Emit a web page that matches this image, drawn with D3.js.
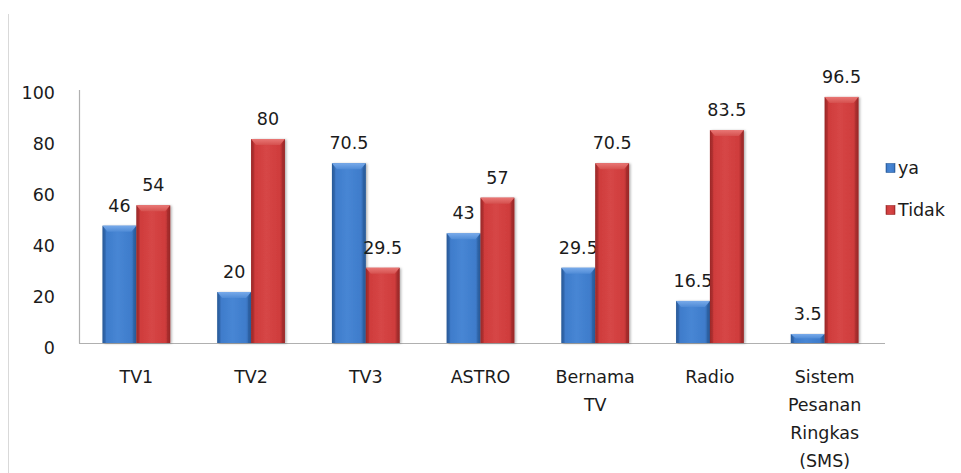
<!DOCTYPE html>
<html><head><meta charset="utf-8">
<script src="https://cdn.jsdelivr.net/npm/d3@7"></script>
<style>html,body{margin:0;padding:0;background:#fff;}svg{display:block;}</style>
</head><body>
<svg id="chart" width="961" height="473"></svg>
<script>
const categories = ["TV1", "TV2", "TV3", "ASTRO", "Bernama\nTV", "Radio", "Sistem\nPesanan\nRingkas\n(SMS)"];
const seriesNames = ["ya", "Tidak"];
const yaValues = [46, 20, 70.5, 43, 29.5, 16.5, 3.5];
const tidakValues = [54, 80, 29.5, 57, 70.5, 83.5, 96.5];
const yTicks = [0, 20, 40, 60, 80, 100];

const svg = d3.select("#chart");
const FONT = "DejaVu Sans, Verdana, sans-serif";
const textColor = "#1b1b1b";

// frame line at left
svg.append("line").attr("x1", 8.5).attr("x2", 8.5).attr("y1", 14).attr("y2", 473)
  .attr("stroke", "#d9d9d9").attr("stroke-width", 1);

const x0 = d3.scaleBand().domain(categories).range([79, 882]).paddingInner(0.41).paddingOuter(0.205);
const x1 = d3.scaleBand().domain(seriesNames).range([0, x0.bandwidth()]);
const y = d3.scaleLinear().domain([0, 100]).range([343, 88]);

const defs = svg.append("defs");
const palettes = {
  ya: {edge: "#285a98", mid: "#3f7ccb", light: "#4786d4", top: "#78aaea", topEdge: "#4f8bd6"},
  Tidak: {edge: "#9a2828", mid: "#cf3c3c", light: "#d64646", top: "#e97775", topEdge: "#d5504e"}
};
seriesNames.forEach((s, i) => {
  const p = palettes[s];
  const g = defs.append("linearGradient").attr("id", "g" + i).attr("x1", 0).attr("x2", 1).attr("y1", 0).attr("y2", 0);
  g.append("stop").attr("offset", "0%").attr("stop-color", p.edge);
  g.append("stop").attr("offset", "12%").attr("stop-color", p.mid);
  g.append("stop").attr("offset", "45%").attr("stop-color", p.light);
  g.append("stop").attr("offset", "85%").attr("stop-color", p.mid);
  g.append("stop").attr("offset", "100%").attr("stop-color", p.edge);
  const t = defs.append("linearGradient").attr("id", "t" + i).attr("x1", 0).attr("x2", 0).attr("y1", 0).attr("y2", 1);
  t.append("stop").attr("offset", "0%").attr("stop-color", p.top);
  t.append("stop").attr("offset", "100%").attr("stop-color", p.topEdge);
});
const shadow = defs.append("filter").attr("id", "sh").attr("x", "-20%").attr("y", "-5%").attr("width", "150%").attr("height", "115%");
shadow.append("feDropShadow").attr("dx", 1.5).attr("dy", 0.5).attr("stdDeviation", 1.2).attr("flood-color", "#000").attr("flood-opacity", 0.3);

// axes
const yAxis = svg.append("g").attr("transform", "translate(79,0)")
  .call(d3.axisLeft(y).tickValues(yTicks).tickSize(0).tickPadding(24));
yAxis.select(".domain").attr("stroke", "#b0b0b0").attr("stroke-width", 1.2).attr("d", "M0.5,90V343.5");
yAxis.selectAll("text").attr("font-family", FONT).attr("font-size", "17.5px").attr("fill", textColor).attr("dy", "0.62em");

svg.append("line").attr("x1", 79).attr("x2", 885).attr("y1", 343.5).attr("y2", 343.5)
  .attr("stroke", "#b0b0b0").attr("stroke-width", 1.2);

const data = categories.map((c, i) => ({cat: c, vals: [yaValues[i], tidakValues[i]]}));

const groups = svg.append("g").selectAll("g").data(data).join("g")
  .attr("transform", d => `translate(${x0(d.cat)},0)`);

const bars = groups.selectAll("g.bar").data(d => d.vals.map((v, i) => ({s: seriesNames[i], i, v})))
  .join("g").attr("class", "bar");

bars.each(function(d) {
  const g = d3.select(this);
  const bx = x1(d.s), bw = x1.bandwidth(), by = y(d.v), bh = y(0) - y(d.v);
  g.append("rect").attr("x", bx).attr("y", by).attr("width", bw).attr("height", bh)
    .attr("fill", `url(#g${d.i})`).attr("filter", "url(#sh)");
  const bev = Math.min(6, bh / 2);
  g.append("path")
    .attr("d", `M${bx},${by}H${bx + bw}L${bx + bw - 5},${by + bev}H${bx + 5}Z`)
    .attr("fill", `url(#t${d.i})`);
  g.append("path")
    .attr("d", `M${bx},${by}L${bx + 3},${by + bev}V${by + bh}H${bx}Z`)
    .attr("fill", palettes[d.s].edge).attr("opacity", 0.35);
  g.append("path")
    .attr("d", `M${bx + bw},${by}L${bx + bw - 3},${by + bev}V${by + bh}H${bx + bw}Z`)
    .attr("fill", palettes[d.s].edge).attr("opacity", 0.5);
});

bars.append("text")
  .attr("x", d => x1(d.s) + x1.bandwidth() / 2)
  .attr("y", d => y(d.v) - 14)
  .attr("text-anchor", "middle")
  .attr("font-family", FONT).attr("font-size", "17.5px").attr("fill", textColor)
  .text(d => d.v);

// category labels
const catG = svg.append("g");
categories.forEach(c => {
  const t = catG.append("text").attr("x", x0(c) + x0.bandwidth() / 2).attr("y", 383)
    .attr("text-anchor", "middle").attr("font-family", FONT).attr("font-size", "17.5px").attr("fill", textColor);
  c.split("\n").forEach((line, j) => {
    t.append("tspan").attr("x", x0(c) + x0.bandwidth() / 2).attr("dy", j === 0 ? 0 : 28).text(line);
  });
});

// legend
const legend = svg.append("g");
seriesNames.forEach((s, i) => {
  const ly = 168 + i * 42;
  legend.append("rect").attr("x", 886).attr("y", ly - 4.5).attr("width", 9).attr("height", 9)
    .attr("fill", `url(#g${i})`).attr("stroke", palettes[s].edge).attr("stroke-width", 0.6);
  legend.append("text").attr("x", 898).attr("y", ly + 6).attr("font-family", FONT)
    .attr("font-size", "17.5px").attr("fill", textColor).text(s);
});
</script>
</body></html>
